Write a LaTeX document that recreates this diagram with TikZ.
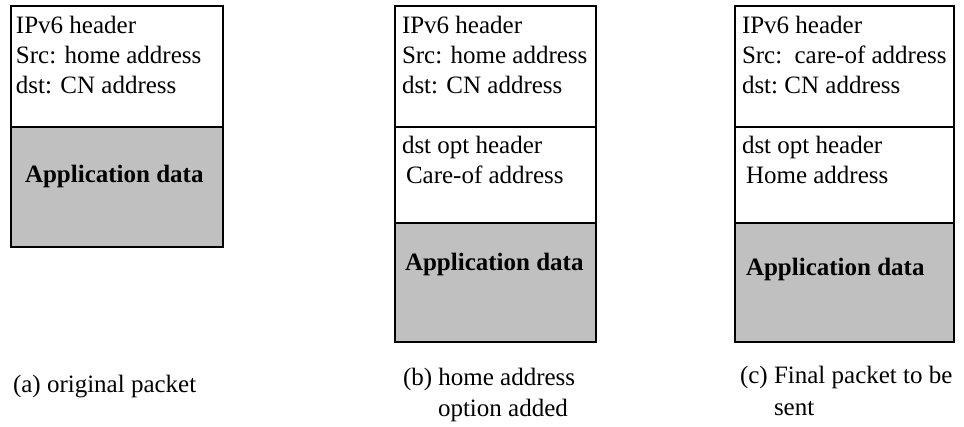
\documentclass[tikz,border=0pt]{standalone}
\usepackage{fontspec}
\setmainfont{Liberation Serif}
\definecolor{appgray}{RGB}{192,192,192}
\tikzset{
  frame/.style={draw=black,line width=1.5pt},
  datafill/.style={fill=appgray},
  txt/.style={anchor=base west,inner sep=0pt,outer sep=0pt,
              font=\fontsize{18.75pt}{22.5pt}\selectfont},
  boldtxt/.style={txt,font=\fontsize{18.75pt}{22.5pt}\selectfont\bfseries},
}
\begin{document}
\begin{tikzpicture}[x=0.75pt,y=-0.75pt]
  \useasboundingbox (0,0) rectangle (964,426);

  % (a) original packet
  \path[datafill] (11,127) rectangle (223,247);
  \draw[frame] (11,6) rectangle (223,127);
  \draw[frame] (11,127) rectangle (223,247);
  \node[txt] (a1) at (16,33) {IPv6 header};
  \node[txt] (a2) at (16,63) {Src: home address};
  \node[txt] (a3) at (16,93) {dst: CN address};
  \node[boldtxt] (adata) at (25,182) {Application data};

  % (b) home address option added
  \path[datafill] (395,223) rectangle (596,342);
  \draw[frame] (395,6) rectangle (596,127);
  \draw[frame] (395,127) rectangle (596,223);
  \draw[frame] (395,223) rectangle (596,342);
  \node[txt] (b1) at (402,33) {IPv6 header};
  \node[txt] (b2) at (402,63) {Src: home address};
  \node[txt] (b3) at (402,93) {dst: CN address};
  \node[txt] (b4) at (402,153) {dst opt header};
  \node[txt] (b5) at (406,183) {Care-of address};
  \node[boldtxt] (bdata) at (405,270) {Application data};

  % (c) final packet
  \path[datafill] (735,223) rectangle (954,342);
  \draw[frame] (735,6) rectangle (954,127);
  \draw[frame] (735,127) rectangle (954,223);
  \draw[frame] (735,223) rectangle (954,342);
  \node[txt] (c1) at (742,33) {IPv6 header};
  \node[txt] (c2) at (742,63) {Src:\hspace{3pt} care-of address};
  \node[txt] (c3) at (742,93) {dst:\hspace{-1.5pt} CN address};
  \node[txt] (c4) at (742,153) {dst opt header};
  \node[txt] (c5) at (746,183) {Home address};
  \node[boldtxt] (cdata) at (746,275) {Application data};

  % captions
  \node[txt] (capa) at (13,392) {(a) original packet};
  \node[txt] (capb1) at (403,385) {(b) home address};
  \node[txt] (capb2) at (438,416) {option added};
  \node[txt] (capc1) at (740,383) {(c) Final packet to be};
  \node[txt] (capc2) at (774,415) {sent};
\end{tikzpicture}
\end{document}
